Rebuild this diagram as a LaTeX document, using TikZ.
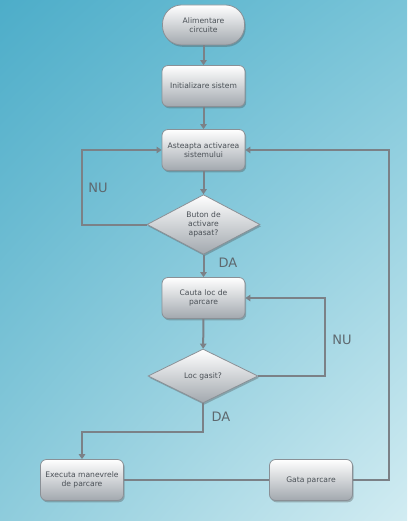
\documentclass[tikz,border=0pt]{standalone}
\usepackage{fontspec}
\setmainfont{DejaVu Sans}
\usetikzlibrary{shapes.geometric,shadows,shadings,arrows.meta}
\definecolor{bgTL}{HTML}{4DADC9}
\definecolor{bgTR}{HTML}{79C4D8}
\definecolor{bgBL}{HTML}{8ECCDC}
\definecolor{bgBR}{HTML}{D2ECF2}
\definecolor{boxbot}{HTML}{A2A8AE}
\definecolor{boxline}{HTML}{8A9096}
\definecolor{txt}{HTML}{4A5056}
\definecolor{conn}{HTML}{7B8187}
\definecolor{lbl}{HTML}{5E686E}
\tikzset{
  shadowed/.style={drop shadow={shadow xshift=1.2pt,shadow yshift=-1.8pt,opacity=0.35,fill=black!70}},
  box/.style={draw=boxline, line width=0.8pt, rounded corners=6pt, top color=white, bottom color=boxbot,
    minimum width=83pt, minimum height=41pt, align=center, text=txt, inner sep=1pt,
    font=\fontsize{7.6}{9.5}\selectfont, shadowed},
  stadium/.style={box, rounded corners=19pt, minimum width=82pt, minimum height=40pt},
  decision/.style={diamond, draw=boxline, line width=0.8pt, top color=white, bottom color=boxbot,
    inner sep=0pt, align=center, text=txt, font=\fontsize{7.6}{9}\selectfont, shadowed},
  conn/.style={draw=conn, line width=2pt},
  arr/.style={conn, -{Triangle[width=6.5pt,length=5pt]}},
  lab/.style={text=lbl, font=\fontsize{13}{15}\selectfont}
}
\begin{document}
\begin{tikzpicture}[x=1pt,y=-1pt]
\shade[upper left=bgTL, upper right=bgTR, lower left=bgBL, lower right=bgBR] (0,0) rectangle (407,521);
\useasboundingbox (0,0) rectangle (407,521);

\node[stadium] (alim) at (203.5,25) {Alimentare\\circuite};
\node[box] (init) at (203.5,86) {Initializare sistem};
\node[box] (ast) at (203.5,150) {Asteapta activarea\\sistemului};
\node[decision, minimum width=113pt, minimum height=55pt] (d1) at (203.5,224.5) {Buton de\\activare\\apasat?};
\node[box] (cauta) at (203.5,298) {Cauta loc de\\parcare};
\node[decision, minimum width=110pt, minimum height=54pt] (d2) at (203,376) {Loc gasit?};
\node[box] (exec) at (82,480) {Executa manevrele\\de parcare};
\node[box] (gata) at (311,480) {Gata parcare};

\coordinate (c1) at (82,224.5);
\coordinate (c2) at (325,376);
\coordinate (c3) at (203,432);
\coordinate (c4) at (389,480);

\draw[arr] (alim) -- (init);
\draw[arr] (init) -- (ast);
\draw[arr] (ast) -- (d1);
\draw[arr] (d1) -- (cauta);
\draw[arr] (cauta) -- (d2);
\draw[arr] (d1.west) -- (c1) |- (ast.west);
\draw[arr] (d2.east) -- (c2) |- (cauta.east);
\draw[arr] (d2.south) -- (c3) -| (exec.north);
\draw[conn] (exec.east) -- (gata.west);
\draw[arr] (gata.east) -- (c4) |- (ast.east);

\node[lab] (nu1) at (98,188) {NU};
\node[lab] (da1) at (228,263) {DA};
\node[lab] (nu2) at (342,340) {NU};
\node[lab] (da2) at (221,417) {DA};
\end{tikzpicture}
\end{document}
